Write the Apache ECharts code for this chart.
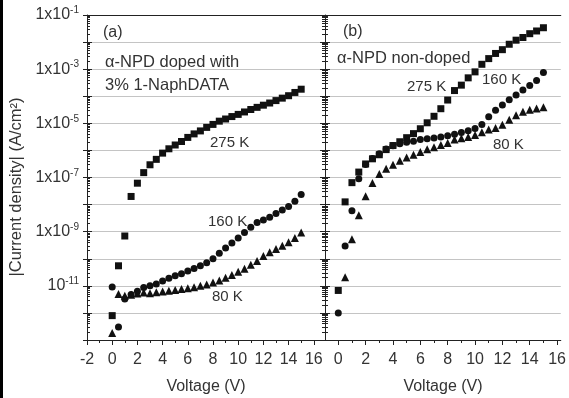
<!DOCTYPE html>
<html>
<head>
    <meta charset="utf-8">
    <title>ECharts</title>
    <script src="https://cdn.jsdelivr.net/npm/echarts@6/dist/echarts.min.js"></script>
    <style>
        html, body { margin: 0; padding: 0; background: #fff; }
    </style>
</head>
<body>
<div id="main" style="width: 569px;height:398px;"></div>
<script type="text/javascript">
    // voltage steps (V), shared by all series
    var volts = [0, 0.5, 1, 1.5, 2, 2.5, 3, 3.5, 4, 4.5, 5, 5.5, 6, 6.5, 7, 7.5,
                 8, 8.5, 9, 9.5, 10, 10.5, 11, 11.5, 12, 12.5, 13, 13.5, 14, 14.5, 15];

    // log10 of |current density| (A/cm2)
    // (a) a-NPD doped with 3% 1-NaphDATA
    var dopedK275 = [-12.1, -10.26, -9.16, -7.7, -7.21, -6.82, -6.53, -6.33, -6.1, -5.94, -5.8, -5.67,
                     -5.52, -5.39, -5.28, -5.15, -5.04, -4.92, -4.84, -4.75, -4.67, -4.58, -4.49, -4.41,
                     -4.33, -4.25, -4.16, -4.07, -3.98, -3.86, -3.74];
    var dopedK160 = [-11.04, -12.52, -11.49, -11.32, -11.2, -11.06, -11.0, -10.93, -10.82, -10.72, -10.63,
                     -10.55, -10.45, -10.36, -10.26, -10.15, -10.0, -9.8, -9.6, -9.42, -9.23, -9.03, -8.84,
                     -8.66, -8.57, -8.47, -8.33, -8.2, -8.07, -7.88, -7.63];
    var dopedK80 = [-12.74, -11.3, -11.37, -11.33, -11.28, -11.25, -11.27, -11.24, -11.21, -11.18, -11.15,
                    -11.12, -11.09, -11.05, -11.0, -10.95, -10.88, -10.8, -10.7, -10.6, -10.48, -10.37,
                    -10.22, -10.08, -9.9, -9.76, -9.64, -9.52, -9.39, -9.23, -9.03];
    // (b) a-NPD non-doped
    var pureK275 = [-11.17, -7.9, -7.19, -6.8, -6.5, -6.31, -6.16, -5.97, -5.82, -5.68, -5.53, -5.38,
                    -5.2, -4.98, -4.74, -4.46, -4.14, -3.79, -3.59, -3.32, -3.1, -2.82, -2.61, -2.42,
                    -2.28, -2.08, -1.93, -1.83, -1.69, -1.59, -1.47];
    var pureK160 = [-12.0, -9.53, -8.23, -7.05, -6.52, -6.3, -6.12, -5.95, -5.83, -5.75, -5.7, -5.66,
                    -5.6, -5.57, -5.54, -5.5, -5.46, -5.4, -5.34, -5.27, -5.19, -5.04, -4.76, -4.52,
                    -4.32, -4.13, -3.95, -3.77, -3.6, -3.42, -3.12];
    var pureK80 = [null, -10.68, -9.28, -8.39, -7.69, -7.2, -6.87, -6.68, -6.53, -6.38, -6.26, -6.16,
                   -6.06, -5.96, -5.88, -5.8, -5.73, -5.6, -5.55, -5.5, -5.43, -5.33, -5.23, -5.17,
                   -5.05, -4.87, -4.7, -4.57, -4.5, -4.45, -4.41];

    // tick labels
    var xMajor = [-2, 0, 2, 4, 6, 8, 10, 12, 14, 16];
    var xMajorB = [0, 2, 4, 6, 8, 10, 12, 14, 16];
    var xMinor = [-1, 1, 3, 5, 7, 9, 11, 13, 15];
    var yLabeled = [-1, -3, -5, -7, -9, -11];

    var FONT = 'Liberation Sans, Arial, sans-serif';
    var TXT = '#333';
    var INK = '#111';

    // log-spaced minor ticks inside every decade
    var yMinor = [];
    for (var d = -13; d < -1; d++) {
        for (var k = 2; k <= 9; k++) yMinor.push(d + Math.log10(k));
    }

    function pairs(arr) {
        var out = [];
        arr.forEach(function (v, i) { if (v != null) out.push([volts[i], v]); });
        return out;
    }

    function yLabel(v) {
        if (yLabeled.indexOf(v) < 0) return '';
        return (v === -11 ? '{b|10}' : '{b|1x10}') + '{s|' + v + '}';
    }

    var line = { show: true, onZero: false, lineStyle: { color: '#222', width: 1 } };
    var noLine = { show: false, onZero: false };

    function yAx(grid, o) {
        return Object.assign({
            type: 'value', gridIndex: grid, position: 'left', min: -13, max: -1, interval: 1,
            axisLine: noLine, axisLabel: { show: false }, splitLine: { show: false },
            axisTick: { show: false }
        }, o);
    }
    function xAx(grid, o, mn, mx) {
        return Object.assign({
            type: 'value', gridIndex: grid, position: 'bottom', min: mn, max: mx,
            axisLine: noLine, axisLabel: { show: false }, splitLine: { show: false },
            axisTick: { show: false }
        }, o);
    }

    var aMin = -2, aMax = 16.89, bMin = -0.97, bMax = 16.27;
    var tickStyle = { color: '#222', width: 1 };
    var dot = { color: INK, opacity: 1 };

    var myChart = echarts.init(document.getElementById('main'));
    var option = {
        animation: false,
        backgroundColor: '#fff',
        grid: [
            { left: 87, top: 15, width: 238, height: 325 },
            { left: 325, top: 15, width: 237, height: 325 }
        ],
        xAxis: [
            xAx(0, {
                axisLine: line,
                axisTick: { show: true, length: 5, customValues: xMajor, lineStyle: tickStyle },
                axisLabel: { show: true, customValues: xMajor, margin: 12, fontSize: 16, color: TXT, fontFamily: FONT }
            }, aMin, aMax),
            xAx(0, { axisTick: { show: true, length: 3, customValues: xMinor, lineStyle: tickStyle } }, aMin, aMax),
            xAx(0, { position: 'top', axisLine: line }, aMin, aMax),
            xAx(1, {
                axisLine: line,
                axisTick: { show: true, length: 5, customValues: xMajorB, lineStyle: tickStyle },
                axisLabel: { show: true, customValues: xMajorB, margin: 12, fontSize: 16, color: TXT, fontFamily: FONT }
            }, bMin, bMax),
            xAx(1, { axisTick: { show: true, length: 3, customValues: xMinor, lineStyle: tickStyle } }, bMin, bMax),
            xAx(1, { position: 'top', axisLine: line }, bMin, bMax)
        ],
        yAxis: [
            yAx(0, {
                axisLine: line,
                splitLine: { show: true, lineStyle: { color: '#c4c4c4', width: 1 } },
                axisTick: { show: true, length: 4, lineStyle: tickStyle },
                axisLabel: {
                    show: true, margin: 8, formatter: yLabel,
                    rich: {
                        b: { fontSize: 16, color: TXT, fontFamily: FONT, lineHeight: 16 },
                        s: { fontSize: 10, color: TXT, fontFamily: FONT, verticalAlign: 'bottom', padding: [0, 0, 9, 0] }
                    }
                }
            }),
            yAx(0, { axisTick: { show: true, inside: true, length: 5, lineStyle: tickStyle } }),
            yAx(0, { axisTick: { show: true, inside: true, length: 3, customValues: yMinor, lineStyle: tickStyle } }),
            yAx(1, {
                axisLine: line,
                splitLine: { show: true, lineStyle: { color: '#c4c4c4', width: 1 } },
                axisTick: { show: true, length: 5, lineStyle: tickStyle }
            }),
            yAx(1, { axisTick: { show: true, inside: true, length: 5, lineStyle: tickStyle } }),
            yAx(1, { axisTick: { show: true, inside: true, length: 3, customValues: yMinor, lineStyle: tickStyle } }),
            yAx(1, { axisTick: { show: true, length: 3, customValues: yMinor, lineStyle: tickStyle } })
        ],
        series: [
            { name: '275 K (a)', type: 'scatter', xAxisIndex: 0, yAxisIndex: 0, symbol: 'rect', symbolSize: 7, itemStyle: dot, data: pairs(dopedK275) },
            { name: '160 K (a)', type: 'scatter', xAxisIndex: 0, yAxisIndex: 0, symbol: 'circle', symbolSize: 7, itemStyle: dot, data: pairs(dopedK160) },
            { name: '80 K (a)', type: 'scatter', xAxisIndex: 0, yAxisIndex: 0, symbol: 'triangle', symbolSize: 8, itemStyle: dot, data: pairs(dopedK80) },
            { name: '275 K (b)', type: 'scatter', xAxisIndex: 3, yAxisIndex: 3, symbol: 'rect', symbolSize: 7, itemStyle: dot, data: pairs(pureK275) },
            { name: '160 K (b)', type: 'scatter', xAxisIndex: 3, yAxisIndex: 3, symbol: 'circle', symbolSize: 7, itemStyle: dot, data: pairs(pureK160) },
            { name: '80 K (b)', type: 'scatter', xAxisIndex: 3, yAxisIndex: 3, symbol: 'triangle', symbolSize: 8, itemStyle: dot, data: pairs(pureK80) }
        ],
        graphic: [
            { type: 'rect', shape: { x: 0, y: 0, width: 3, height: 398 }, style: { fill: '#000' } }
        ]
    };

    // free text on the chart: text, left x, middle y, font size
    var notes = [
        ['(a)', 103, 33, 16], ['\u03b1-NPD doped with', 105, 62, 16.5], ['3% 1-NaphDATA', 105, 85, 16.5],
        ['275 K', 210, 143, 15], ['160 K', 208, 222, 15], ['80 K', 212, 297, 15],
        ['(b)', 343, 32, 16], ['\u03b1-NPD non-doped', 337, 58, 16.5],
        ['275 K', 407, 87, 15], ['160 K', 482, 80, 15], ['80 K', 493, 145, 15]
    ];
    notes.forEach(function (n) {
        option.graphic.push({
            type: 'text', x: n[1], y: n[2], z: 10,
            style: { text: n[0], font: n[3] + 'px ' + FONT, fill: TXT, textAlign: 'left', align: 'left', textVerticalAlign: 'middle', verticalAlign: 'middle' }
        });
    });
    [[206, 387], [443, 387]].forEach(function (p) {
        option.graphic.push({
            type: 'text', x: p[0], y: p[1],
            style: { text: 'Voltage (V)', font: '16px ' + FONT, fill: TXT, textAlign: 'center', align: 'center', textVerticalAlign: 'middle', verticalAlign: 'middle' }
        });
    });
    option.graphic.push({
        type: 'text', x: 16, y: 187, rotation: Math.PI / 2,
        style: { text: '|Current density| (A/cm\u00b2)', font: '16.5px ' + FONT, fill: TXT, textAlign: 'center', align: 'center', textVerticalAlign: 'middle', verticalAlign: 'middle' }
    });

    myChart.setOption(option);
</script>
</body>
</html>
